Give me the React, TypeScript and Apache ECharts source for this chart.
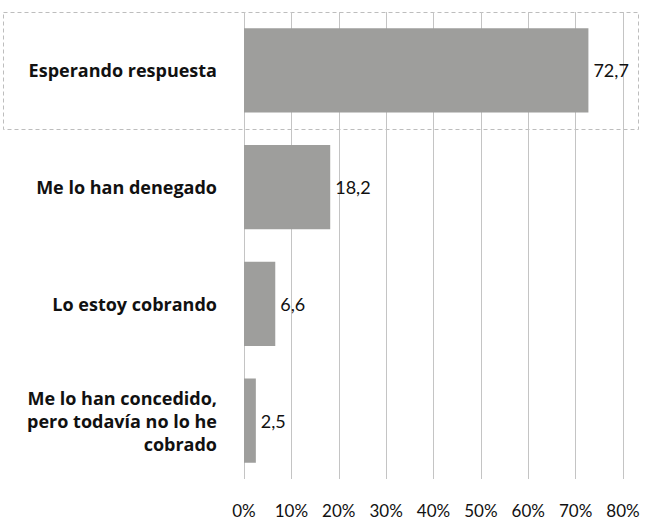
import React, { useEffect, useRef } from "react";
import * as echarts from "echarts";

const categories = [
  "Esperando respuesta",
  "Me lo han denegado",
  "Lo estoy cobrando",
  "Me lo han concedido,\npero todavía no lo he\ncobrado",
];
const values = [72.7, 18.2, 6.6, 2.5];
const axisMax = 80;
const axisInterval = 10;

const FONT = "Lato, 'Open Sans', sans-serif";
const CAT_FONT = "'Open Sans', Lato, sans-serif";

export default function App() {
  const ref = useRef<HTMLDivElement>(null);
  useEffect(() => {
    if (!ref.current) return;
    const chart = echarts.init(ref.current, undefined, { renderer: "svg" });
    chart.setOption({
      animation: false,
      backgroundColor: "#ffffff",
      textStyle: { fontFamily: FONT },
      grid: { left: 244, right: 28, top: 12, bottom: 41, containLabel: false },
      xAxis: {
        type: "value",
        min: 0,
        max: axisMax,
        interval: axisInterval,
        axisLine: { show: false },
        axisTick: { show: false },
        splitLine: { show: true, lineStyle: { color: "#c4c4c4", width: 1 } },
        axisLabel: {
          formatter: "{value}%",
          color: "#111111",
          fontSize: 17,
          fontFamily: FONT,
          margin: 23,
        },
      },
      yAxis: {
        type: "category",
        data: categories,
        inverse: true,
        axisLine: { show: false },
        axisTick: { show: false },
        axisLabel: {
          color: "#111111",
          fontSize: 18,
          fontWeight: "bold",
          fontFamily: CAT_FONT,
          margin: 27,
          align: "right",
          lineHeight: 23,
        },
      },
      series: [
        {
          type: "bar",
          data: values,
          barCategoryGap: "28%",
          itemStyle: { color: "#9e9e9c" },
          label: {
            show: true,
            position: "right",
            distance: 5,
            color: "#111111",
            fontSize: 18,
            fontFamily: FONT,
            formatter: (p: any) => String(p.value).replace(".", ","),
          },
        },
      ],
      graphic: [
        {
          type: "rect",
          left: 1,
          top: 10,
          shape: { x: 0, y: 0, width: 635, height: 117 },
          style: { fill: "none", stroke: "#bdbdbd", lineWidth: 1, lineDash: [4, 3] },
          silent: true,
        },
      ],
    });
    return () => chart.dispose();
  }, []);
  return (
    <div
      ref={ref}
      style={{ position: "fixed", left: 0, top: 0, width: 651, height: 520 }}
    />
  );
}
